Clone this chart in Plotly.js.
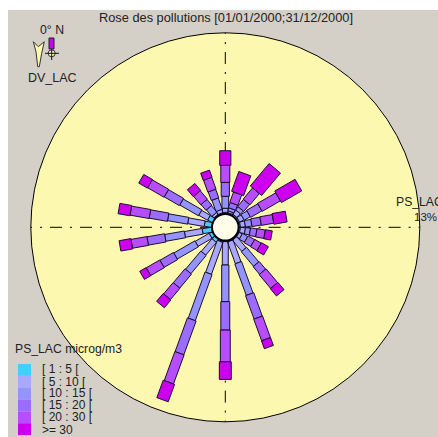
<!DOCTYPE html>
<html><head><meta charset="utf-8">
<script src="https://cdn.plot.ly/plotly-3.0.1.min.js"></script>
<style>html,body{margin:0;padding:0;background:#fff;overflow:hidden}#c{position:absolute;left:8px;top:10px;width:430px;height:427px}</style>
</head><body><div id="c"></div>
<script>
const directions=[0,20,40,60,80,100,120,140,160,180,200,220,240,260,280,300,320,340];
const classLabels=['[ 1 : 5 [','[ 5 : 10 [','[ 10 : 15 [','[ 15 : 20 [','[ 20 : 30 [','>= 30'];
const classColors=['#40d0ff','#a8a8ff','#9494ff','#9c6cff','#b84cff','#cc00ee'];
const class1=[.12,.09,.12,.12,.12,.12,.09,.09,.09,.07,.12,.29,.27,.70,.55,.41,.09,.09];
const class2=[.29,.14,.36,.36,.36,.36,.25,1.04,1.66,1.68,2.44,1.19,1.15,1.29,1.20,.72,.18,.25];
const class3=[.86,.22,.29,.50,.47,.36,.43,1.36,2.40,2.63,3.52,1.70,1.75,1.43,1.46,1.55,.61,.86];
const class4=[1.00,.39,.65,.93,.67,.47,.54,.72,1.79,2.04,2.58,1.31,1.12,1.28,1.33,1.25,.54,.65];
const class5=[1.22,.79,1.05,1.51,.90,.60,.54,1.29,1.65,2.27,2.22,1.06,1.12,1.16,1.39,1.36,.79,.90];
const class6=[1.05,1.51,2.10,1.68,.96,.50,.57,.68,.60,1.27,1.33,.73,.53,.86,.86,.72,.65,.54];
const classes=[class1,class2,class3,class4,class5,class6];

const W=430,H=427,CX=217.3,CY=217.3,R=194.5,HOLE=13.3,RMAX=13;
const pxPerUnit=(R-HOLE)/RMAX;
const baseW=[5,5.5,6.5,7.5,8,7.5], slopeW=[0,0.02,0.02,0.05,0.06,0.25];
const cum=directions.map(()=>0);
const traces=classes.map((vals,c)=>{
  const rr=[],tt=[];
  vals.forEach((v,i)=>{
    const d0=HOLE+cum[i]*pxPerUnit, d1=HOLE+(cum[i]+v)*pxPerUnit;
    const h=(baseW[c]+slopeW[c]*v*pxPerUnit)/2;
    [[d0,-h],[d1,-h],[d1,h],[d0,h],[d0,-h]].forEach(([d,o])=>{
      rr.push((Math.hypot(d,o)-HOLE)/pxPerUnit);
      tt.push(directions[i]+Math.atan2(o,d)*180/Math.PI);
    });
    rr.push(null);tt.push(null);
    cum[i]+=v;
  });
  return {type:'scatterpolar',mode:'lines',name:classLabels[c],r:rr,theta:tt,fill:'toself',fillcolor:classColors[c],
    line:{color:'#1a1030',width:1},connectgaps:false,showlegend:false,hoverinfo:'skip',cliponaxis:false};
});

const px=x=>(x-8)/W, py=y=>1-(y-10)/H;
const font={family:'"Liberation Sans",Arial,sans-serif',size:12,color:'#222'};
function note(text,x,y,anchor,size){return {text,x:px(x),y:py(y),xref:'paper',yref:'paper',showarrow:false,
  xanchor:anchor||'left',yanchor:'middle',font:Object.assign({},font,{size:size||12}),borderpad:0,captureevents:false};}
const annotations=[
  note('Rose des pollutions [01/01/2000;31/12/2000]',225.5,17.5,'center',12.8),
  note('0° N',51.5,30.5,'center',12.3),
  note('DV_LAC',52,78,'center',12.5),
  note('PS_LAC',395,202,'left',12.2),
  note('13%',413,217,'left',11.5),
  note('PS_LAC microg/m3',14,349,'left',12.2)
];
const labelY=[369,382,393,405,417,430];
classLabels.forEach((l,i)=>annotations.push(note(l,41,labelY[i])));
const shapes=[];
shapes.push({type:'circle',xref:'paper',yref:'paper',x0:px(8+CX-HOLE),x1:px(8+CX+HOLE),y0:py(10+CY+HOLE),y1:py(10+CY-HOLE),
  fillcolor:'#fffde8',line:{color:'#000',width:2}});
classColors.forEach((col,i)=>shapes.push({type:'rect',xref:'paper',yref:'paper',x0:px(18),x1:px(31),
  y0:py(364+i*11.85),y1:py(364+(i+1)*11.85),fillcolor:col,line:{width:0}}));
const arrow=[[33.3,41.7],[38.3,46.7],[44.3,41.7],[41.7,53.3],[39.3,66.7],[37.7,66.7],[36,51.7]];
shapes.push({type:'path',xref:'paper',yref:'paper',
  path:'M'+arrow.map(p=>px(p[0])+','+py(p[1])).join('L')+'Z',fillcolor:'#fdf8b0',line:{color:'#333',width:1}});
shapes.push({type:'rect',xref:'paper',yref:'paper',x0:px(49),x1:px(54),y0:py(38),y1:py(49),fillcolor:'#cc00ee',line:{color:'#222',width:1}});
shapes.push({type:'circle',xref:'paper',yref:'paper',x0:px(48.2),x1:px(55.2),y0:py(49.8),y1:py(56.8),fillcolor:'#fdf8b0',line:{color:'#333',width:1}});
shapes.push({type:'line',xref:'paper',yref:'paper',x0:px(45),x1:px(59),y0:py(53.3),y1:py(53.3),line:{color:'#111',width:1}});
shapes.push({type:'line',xref:'paper',yref:'paper',x0:px(51.7),x1:px(51.7),y0:py(49),y1:py(60),line:{color:'#111',width:1}});

const layout={width:W,height:H,autosize:false,margin:{l:0,r:0,t:0,b:0},paper_bgcolor:'#d4d0c8',
  polar:{domain:{x:[(CX-R)/W,(CX+R)/W],y:[1-(CY+R)/H,1-(CY-R)/H]},bgcolor:'#fdf8b0',hole:HOLE/R,
    radialaxis:{visible:false,range:[0,RMAX],showgrid:false},
    angularaxis:{direction:'clockwise',rotation:90,tickmode:'array',tickvals:[0,90,180,270],showticklabels:false,ticks:'',
      showgrid:true,gridcolor:'#000',gridwidth:1,griddash:'12px,8px,2px,8px',showline:true,linecolor:'#000',linewidth:1}},
  annotations,shapes};
Plotly.newPlot('c',traces,layout,{staticPlot:true,displayModeBar:false});
</script></body></html>
